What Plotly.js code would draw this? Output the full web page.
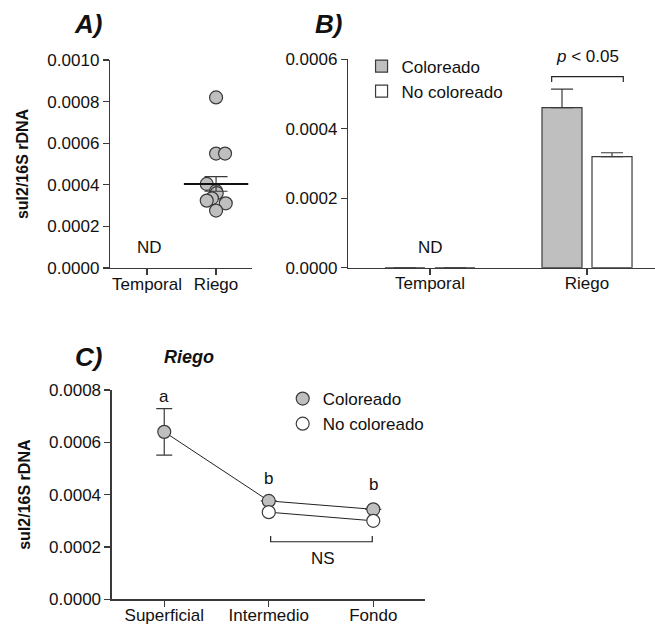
<!DOCTYPE html>
<html>
<head>
<meta charset="utf-8">
<script src="https://cdn.plot.ly/plotly-3.0.1.min.js"></script>
<style>html,body{margin:0;padding:0;background:#fff;}#chart{width:655px;height:625px;}</style>
</head>
<body>
<div id="chart"></div>
<script>
// ---- Data ----
const catsAB = ['Temporal', 'Riego'];
const depthCats = ['Superficial', 'Intermedio', 'Fondo'];

// Panel A: individual Riego values and horizontal jitter (category units)
const aRiegoValues = [0.00082, 0.00055, 0.00055, 0.000404, 0.00037, 0.00036, 0.000335, 0.000324, 0.000311, 0.000276];
const aRiegoJitter = [0, 0, 0.13, -0.135, 0, 0.01, -0.06, -0.135, 0.14, 0];
const aRiegoMean = 0.000404;
const aRiegoSem = 0.000035;

// Panel B: means and SEM
const bColoreado = [0, 0.000461];
const bColoreadoSem = [null, 0.000053];
const bNoColoreado = [0, 0.00032];
const bNoColoreadoSem = [null, 0.000011];

// Panel C: Riego by depth
const cColoreado = [0.00064, 0.000376, 0.000344];
const cColoreadoSem = [0.000089, null, null];
const cNoColoreado = [null, 0.000333, 0.0003];

const dark = '#3a3a3a';
const grey = '#bfbfbf';
const FONT = 'Liberation Sans, Arial, Helvetica, sans-serif';

const traces = [
  // Panel A points
  {
    type: 'scatter', mode: 'markers', xaxis: 'x', yaxis: 'y', showlegend: false,
    x: aRiegoValues.map((v, i) => 1 + aRiegoJitter[i]), y: aRiegoValues,
    marker: {size: 13, color: grey, line: {color: dark, width: 1.2}}
  },
  // Panel A mean +/- SEM
  {
    type: 'scatter', mode: 'markers', xaxis: 'x', yaxis: 'y', showlegend: false,
    x: [1], y: [aRiegoMean],
    marker: {symbol: 'line-ew', size: 46, line: {color: '#111', width: 2}},
    error_y: {type: 'data', array: [aRiegoSem], visible: true, color: dark, thickness: 1.2, width: 11.5}
  },
  // Panel B bars
  {
    type: 'bar', name: 'Coloreado', xaxis: 'x2', yaxis: 'y2', legend: 'legend',
    x: catsAB, y: bColoreado,
    marker: {color: grey, line: {color: dark, width: 1.2}},
    error_y: {type: 'data', symmetric: false, array: bColoreadoSem, arrayminus: [0, 0], visible: true, color: dark, thickness: 1.2, width: 11}
  },
  {
    type: 'bar', name: 'No coloreado', xaxis: 'x2', yaxis: 'y2', legend: 'legend',
    x: catsAB, y: bNoColoreado,
    marker: {color: '#ffffff', line: {color: dark, width: 1.2}},
    error_y: {type: 'data', symmetric: false, array: bNoColoreadoSem, arrayminus: [0, 0], visible: true, color: dark, thickness: 1.2, width: 11}
  },
  // Panel C lines
  {
    type: 'scatter', mode: 'lines', xaxis: 'x3', yaxis: 'y3', showlegend: false,
    x: depthCats, y: cColoreado, line: {color: '#222', width: 1}
  },
  {
    type: 'scatter', mode: 'markers', name: 'Coloreado', xaxis: 'x3', yaxis: 'y3', legend: 'legend2',
    x: depthCats, y: cColoreado,
    marker: {size: 13, color: grey, line: {color: dark, width: 1.2}},
    error_y: {type: 'data', array: cColoreadoSem, visible: true, color: dark, thickness: 1.2, width: 8}
  },
  {
    type: 'scatter', mode: 'lines', xaxis: 'x3', yaxis: 'y3', showlegend: false,
    x: depthCats, y: cNoColoreado, line: {color: '#222', width: 1}
  },
  {
    type: 'scatter', mode: 'markers', name: 'No coloreado', xaxis: 'x3', yaxis: 'y3', legend: 'legend2',
    x: depthCats, y: cNoColoreado,
    marker: {size: 13, color: '#ffffff', line: {color: dark, width: 1.2}}
  }
];

const axBase = {
  showline: true, linecolor: dark, linewidth: 1.2, showgrid: false, zeroline: false,
  ticks: 'outside', ticklen: 6, tickwidth: 1.2, tickcolor: dark,
  tickfont: {size: 17, color: '#111'}, fixedrange: true
};
const xExtra = {ticklabelstandoff: -6};
const yTitle = {text: '<b>sul2/16S rDNA</b>', font: {size: 16, color: '#111'}, standoff: 14};

function ann(o) {
  return Object.assign({showarrow: false, xanchor: 'center', yanchor: 'middle', font: {size: 17, color: '#111'}}, o);
}

const layout = {
  width: 655, height: 625,
  margin: {l: 0, r: 0, t: 0, b: 0},
  paper_bgcolor: '#ffffff', plot_bgcolor: '#ffffff',
  font: {family: FONT, size: 17, color: '#111'},
  barmode: 'group', bargap: 0.363, bargroupgap: 0.2,
  showlegend: true,
  xaxis: Object.assign({}, axBase, xExtra, {domain: [0.1679, 0.3847], anchor: 'y', range: [-0.536, 1.52], tickvals: [0, 1], ticktext: catsAB}),
  yaxis: Object.assign({}, axBase, {domain: [0.5712, 0.904], anchor: 'x', range: [0, 0.001], dtick: 0.0002, tickformat: '.4f', title: yTitle}),
  xaxis2: Object.assign({}, axBase, xExtra, {domain: [0.5313, 1], anchor: 'y2', type: 'category', range: [-0.522, 1.433]}),
  yaxis2: Object.assign({}, axBase, {domain: [0.5717, 0.9051], anchor: 'x2', range: [0, 0.0006], dtick: 0.0002, tickformat: '.4f'}),
  xaxis3: Object.assign({}, axBase, xExtra, {domain: [0.1705, 0.6489], anchor: 'y3', type: 'category', range: [-0.503, 2.495]}),
  yaxis3: Object.assign({}, axBase, {domain: [0.04112, 0.376], anchor: 'x3', range: [0, 0.0008], dtick: 0.0002, tickformat: '.4f', title: yTitle}),
  legend: {x: 0.552, y: 0.9224, xanchor: 'left', yanchor: 'top', bgcolor: 'rgba(0,0,0,0)', font: {size: 17, color: '#111'}, tracegroupgap: 0},
  legend2: {x: 0.4316, y: 0.3904, xanchor: 'left', yanchor: 'top', bgcolor: 'rgba(0,0,0,0)', font: {size: 17, color: '#111'}, tracegroupgap: 0},
  shapes: [
    // p < 0.05 bracket (panel B)
    {type: 'path', xref: 'x2', yref: 'y2', path: 'M0.775,0.000535 L0.775,0.00055 L1.231,0.00055 L1.231,0.000535', line: {color: '#222', width: 1.2}},
    // NS bracket (panel C)
    {type: 'path', xref: 'x3', yref: 'y3', path: 'M1.018,0.000242 L1.018,0.00022 L1.99,0.00022 L1.99,0.000242', line: {color: '#222', width: 1.2}}
  ],
  annotations: [
    ann({xref: 'paper', yref: 'paper', x: 0.1336, y: 0.9616, text: '<b><i>A)</i></b>', font: {size: 26, color: '#111'}}),
    ann({xref: 'paper', yref: 'paper', x: 0.5008, y: 0.9616, text: '<b><i>B)</i></b>', font: {size: 26, color: '#111'}}),
    ann({xref: 'paper', yref: 'paper', x: 0.1344, y: 0.4288, text: '<b><i>C)</i></b>', font: {size: 26, color: '#111'}}),
    ann({xref: 'paper', yref: 'paper', x: 0.2888, y: 0.4288, text: '<b><i>Riego</i></b>', font: {size: 18, color: '#111'}}),
    ann({xref: 'x', yref: 'y', x: 0.04, y: 0.0001, text: 'ND'}),
    ann({xref: 'x2', yref: 'y2', x: 0.006, y: 0.0000587, text: 'ND'}),
    ann({xref: 'x2', yref: 'paper', x: 1.0, y: 0.9088, text: '<i>p</i> < 0.05'}),
    ann({xref: 'x3', yref: 'y3', x: 0, y: 0.000774, text: 'a'}),
    ann({xref: 'x3', yref: 'y3', x: 1, y: 0.000462, text: 'b'}),
    ann({xref: 'x3', yref: 'y3', x: 2, y: 0.000437, text: 'b'}),
    ann({xref: 'x3', yref: 'y3', x: 1.52, y: 0.000157, text: 'NS'})
  ]
};

Plotly.newPlot('chart', traces, layout, {staticPlot: true, displayModeBar: false});
</script>
</body>
</html>
